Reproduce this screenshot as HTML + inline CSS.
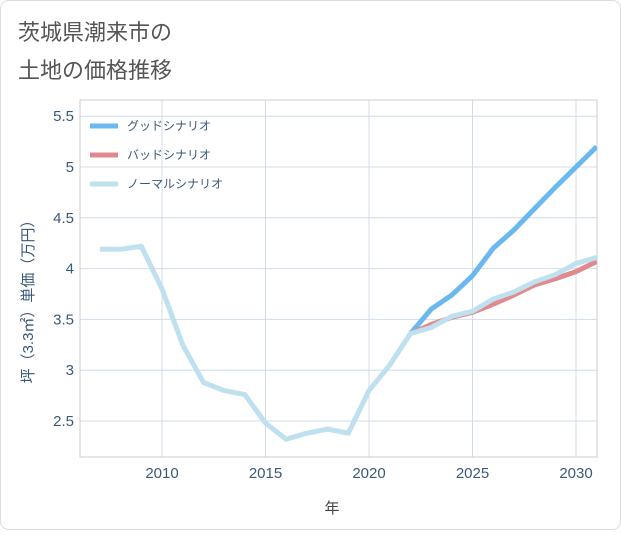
<!DOCTYPE html>
<html><head><meta charset="utf-8"><style>
body{margin:0;background:#fff;font-family:"Liberation Sans","Noto Sans CJK JP",sans-serif}
</style></head><body>
<svg width="621" height="530" xmlns="http://www.w3.org/2000/svg">
<rect x="0.5" y="0.5" width="620" height="529" rx="8" fill="#fff" stroke="#ddd"/>
<text x="18" y="40" font-size="22" fill="#555" font-family="Liberation Sans,Noto Sans CJK JP,sans-serif">茨城県潮来市の</text>
<text x="18" y="78" font-size="22" fill="#555" font-family="Liberation Sans,Noto Sans CJK JP,sans-serif">土地の価格推移</text>
<g id="grid"></g>
<g id="series"></g>
<g id="legend"></g>
<text x="332" y="513" font-size="15" fill="#444" text-anchor="middle" font-family="Liberation Sans,Noto Sans CJK JP,sans-serif">年</text>
<text transform="translate(33,298) rotate(-90)" font-size="15" fill="#3a5a7a" text-anchor="middle" font-family="Liberation Sans,Noto Sans CJK JP,sans-serif">坪（3.3㎡）単価（万円）</text>
</svg>
<script>
const years=[2007,2008,2009,2010,2011,2012,2013,2014,2015,2016,2017,2018,2019,2020,2021,2022,2023,2024,2025,2026,2027,2028,2029,2030,2031];
const normal=[4.19,4.19,4.22,3.8,3.25,2.88,2.8,2.76,2.48,2.32,2.38,2.42,2.38,2.8,3.05,3.36,3.42,3.53,3.58,3.7,3.77,3.87,3.94,4.05,4.11];
const futureYears=[2022,2023,2024,2025,2026,2027,2028,2029,2030,2031];
const good=[3.36,3.6,3.74,3.93,4.2,4.38,4.59,4.8,5.0,5.2];
const bad=[3.36,3.45,3.52,3.57,3.65,3.74,3.84,3.9,3.97,4.07];
const xTicks=[2010,2015,2020,2025,2030];
const yTicks=[2.5,3,3.5,4,4.5,5,5.5];
const legendLabels=["グッドシナリオ","バッドシナリオ","ノーマルシナリオ"];
const NS="http://www.w3.org/2000/svg";
const L=80,R=597,T=100,B=457;
const xs=y=>162+(y-2010)*20.7;
const ys=v=>167-(v-5)*101.6;
function mk(t,a,p){const e=document.createElementNS(NS,t);for(const k in a)e.setAttribute(k,a[k]);p.appendChild(e);return e;}
const g=document.getElementById('grid');
xTicks.forEach(t=>{const l=mk('line',{x1:xs(t),x2:xs(t),y1:T,y2:B,stroke:'#d0dde8'},g);

const tx=mk('text',{x:xs(t),y:478,'font-size':15,fill:'#3a5a7a','text-anchor':'middle'},g);tx.textContent=t;
});
yTicks.forEach(t=>{const l=mk('line',{x1:L,x2:R,y1:ys(t),y2:ys(t),stroke:'#d0dde8'},g);

const tx=mk('text',{x:74,y:ys(t)+5,'font-size':15,fill:'#3a5a7a','text-anchor':'end'},g);tx.textContent=t;
});
const fr=mk('rect',{x:L,y:T,width:R-L,height:B-T,fill:'none',stroke:'#ccc'},g);

const s=document.getElementById('series');
mk('clipPath',{id:'cp'},s).appendChild(Object.assign(document.createElementNS(NS,'rect'),{}));
const cr=s.querySelector('#cp rect');cr.setAttribute('x',L);cr.setAttribute('y',T);cr.setAttribute('width',R-L);cr.setAttribute('height',B-T);
function line(xv,yv,c,name){const p=mk('polyline',{points:xv.map((x,i)=>xs(x)+','+ys(yv[i])).join(' '),fill:'none',stroke:c,'stroke-width':5,'stroke-linejoin':'round','clip-path':'url(#cp)'},s);
}
line(futureYears,good,'#6bb8ee','good-scenario-line');
line(futureYears,bad,'#e08a8e','bad-scenario-line');
line(years,normal,'#bfe0ee','normal-scenario-line');
const lg=document.getElementById('legend');
const cols=['#6bb8ee','#e08a8e','#bfe0ee'];
legendLabels.forEach((t,i)=>{const y=126+i*29;
const l=mk('line',{x1:90,x2:118,y1:y,y2:y,stroke:cols[i],'stroke-width':5},lg);

const tx=mk('text',{x:127,y:y+4,'font-size':12,fill:'#3a5a7a'},lg);tx.textContent=t;
});
</script>
</body></html>
